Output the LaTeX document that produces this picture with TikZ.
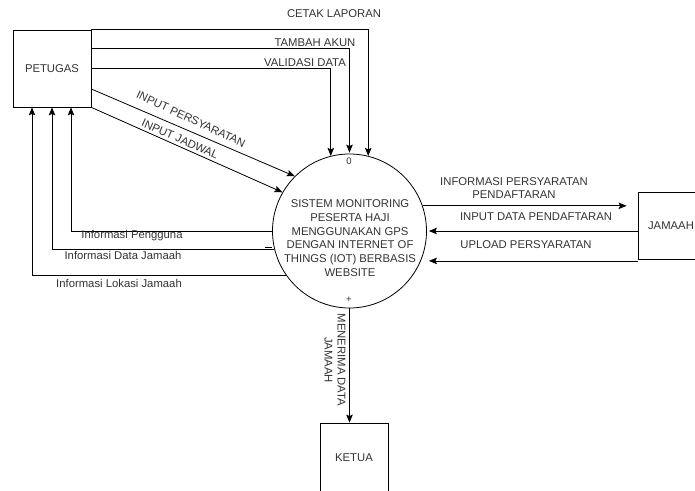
\documentclass[tikz,border=0pt]{standalone}
\usepackage{fontspec}
\setmainfont{Liberation Sans}
\usetikzlibrary{arrows.meta}
\definecolor{txt}{HTML}{333333}
\tikzset{
  box/.style={draw, line width=0.8pt, inner sep=0pt, font=\fontsize{11.3}{13}\selectfont, text=txt},
  proc/.style={draw, circle, line width=0.8pt, minimum size=154pt, inner sep=0pt},
  lbl/.style={font=\fontsize{11.3}{13}\selectfont, text=txt, inner sep=0pt, align=center},
  small/.style={font=\fontsize{9.5}{11}\selectfont, text=txt, inner sep=0pt},
  arr/.style={line width=0.8pt, -{Stealth[length=8pt,width=6.5pt,inset=1.5pt]}},
  ln/.style={line width=0.8pt}
}
\begin{document}
\begin{tikzpicture}[x=1pt,y=-1pt]
\useasboundingbox (0,0) rectangle (695,490);
\clip (0,0) rectangle (695,490);
\fill[white] (0,0) rectangle (695,490);

% entities and process
\node[box, minimum width=78pt, minimum height=77pt] (pet) at (52,68.5) {PETUGAS};
\node[box, minimum width=66pt, minimum height=67pt] (jam) at (671,225.5) {JAMAAH};
\node[box, minimum width=68pt, minimum height=69pt] (ket) at (354,457.5) {KETUA};
\node[proc] (sys) at (349.5,231) {};
\node[lbl, font=\fontsize{11.3}{13.7}\selectfont] (systxt) at (350,238) {SISTEM MONITORING\\PESERTA HAJI\\MENGGUNAKAN GPS\\DENGAN INTERNET OF\\THINGS (IOT) BERBASIS\\WEBSITE};
\node[small] (n0) at (349,161) {0};
\node[small] (nplus) at (349,300) {+};

% PETUGAS -> system
\draw[arr] ([yshift=-10pt]pet.north east) -- (pet.north east) -- (pet.north east -| sys.76) -- (sys.76);
\draw[arr] ([yshift=-19pt]pet.north east) -| ([yshift=1pt]sys.north);
\draw[arr] (pet.east) -| (sys.104);
\draw[arr] ([yshift=-20.5pt]pet.east) -- (sys.135);
\draw[arr] (pet.south east) -- (sys.150);

% system -> PETUGAS
\draw[arr] (sys.west) -| ([xshift=19pt]pet.south);
\draw[arr] (sys.194) -| (pet.south);
\draw[ln] ([shift={(-9pt,2.5pt)}]sys.194) -- ++(7pt,0);
\draw[arr] (sys.215) -| ([xshift=-20pt]pet.south);

% system <-> JAMAAH
\coordinate (upl) at ([yshift=-1.5pt]jam.south west);
\coordinate (sysr) at ([xshift=2pt]sys.east);
\draw[arr, shorten >=11pt] (sys.19) -- (sys.19 -| jam.west);
\draw[arr] (jam.west |- sys.east) -- (sysr);
\draw[arr] (upl) -- (upl -| sysr);

% system -> KETUA
\draw[arr] (sys.south) -- (sys.south |- ket.north);

% labels
\node[lbl] (l1) at (334,14) {CETAK LAPORAN};
\node[lbl] (l2) at (315,43) {TAMBAH AKUN};
\node[lbl] (l3) at (305,63) {VALIDASI DATA};
\node[lbl, rotate=-25] (l4) at (191,119) {INPUT PERSYARATAN};
\node[lbl, rotate=-24] (l5) at (180,139) {INPUT JADWAL};
\node[lbl] (l6) at (132,236) {Informasi Pengguna};
\node[lbl] (l7) at (123,255) {Informasi Data Jamaah};
\node[lbl] (l8) at (119,283) {Informasi Lokasi Jamaah};
\node[lbl] (l9) at (514,188.5) {INFORMASI PERSYARATAN\\PENDAFTARAN};
\node[lbl] (l10) at (536,217) {INPUT DATA PENDAFTARAN};
\node[lbl] (l11) at (526,245) {UPLOAD PERSYARATAN};
\node[lbl, rotate=-90] (l12) at (335,360) {MENERIMA DATA\\JAMAAH};
\end{tikzpicture}
\end{document}
